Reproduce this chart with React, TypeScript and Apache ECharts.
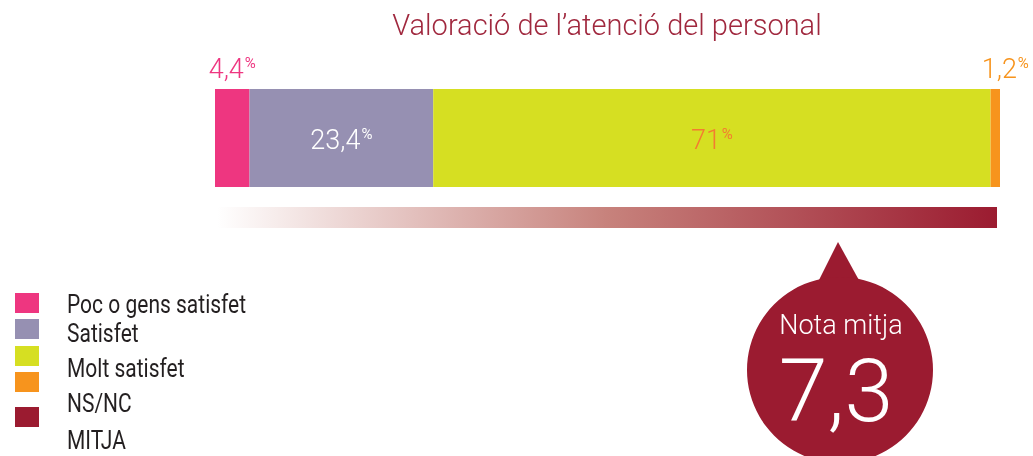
import React, { useEffect, useRef } from "react";
import * as echarts from "echarts";

const categories = ["Atenció del personal"];
const seriesNames = ["Poc o gens satisfet", "Satisfet", "Molt satisfet", "NS/NC"];
const pocValues = [4.4];
const satisfetValues = [23.4];
const moltValues = [71];
const nsncValues = [1.2];
const legendLabels = ["Poc o gens satisfet", "Satisfet", "Molt satisfet", "NS/NC", "MITJA"];
const mitjaLabel = "Nota mitja";
const mitjaValue = 7.3;
const titleText = "Valoració de l’atenció del personal";

const FONT = "Roboto, 'Liberation Sans', sans-serif";
const PINK = "#ee3680";
const PURPLE = "#9690b2";
const GREEN = "#d6df22";
const ORANGE = "#f7941d";
const DARK = "#9b1b30";

const fmt = (v: number) => String(v).replace(".", ",");

function richLabel(color: string, position: any, distance = 5, offset: number[] = [0, 0]) {
  return {
    show: true,
    position,
    distance,
    offset,
    formatter: (p: any) => `{a|${fmt(p.value)}}{p|%}`,
    rich: {
      a: { fontSize: 27, fontWeight: 300, fontFamily: FONT, color, lineHeight: 30, verticalAlign: "bottom" },
      p: { fontSize: 15, fontWeight: 400, fontFamily: FONT, color, lineHeight: 30, verticalAlign: "top", padding: [3, 0, 0, 1] },
    },
  };
}

export default function App() {
  const ref = useRef<HTMLDivElement>(null);
  useEffect(() => {
    const chart = echarts.init(ref.current!, null, { renderer: "svg" });
    const squares = [
      { y: 293, color: PINK },
      { y: 319, color: PURPLE },
      { y: 346, color: GREEN },
      { y: 372, color: ORANGE },
      { y: 407, color: DARK },
    ];
    const textYs = [305, 334, 369, 404, 441];
    const graphic: any[] = [
      {
        type: "text",
        x: 607,
        y: 25,
        style: { text: titleText, fill: "#a0283e", font: `300 29px ${FONT}`, align: "center", verticalAlign: "middle" },
      },
      {
        type: "rect",
        shape: { x: 217, y: 207, width: 780, height: 21 },
        style: {
          fill: new echarts.graphic.LinearGradient(0, 0, 1, 0, [
            { offset: 0, color: "#ffffff" },
            { offset: 0.5, color: "#c7827c" },
            { offset: 1, color: DARK },
          ]),
        },
      },
      {
        type: "polygon",
        shape: { points: [[838, 242], [818, 282], [860, 282]] },
        style: { fill: DARK },
      },
      { type: "circle", shape: { cx: 840, cy: 370, r: 93 }, style: { fill: DARK } },
      {
        type: "text",
        x: 841,
        y: 325,
        style: { text: mitjaLabel, fill: "#fff", font: `300 27px ${FONT}`, align: "center", verticalAlign: "middle" },
      },
      {
        type: "text",
        x: 836,
        y: 390,
        style: { text: fmt(mitjaValue), fill: "#fff", font: `300 88px ${FONT}`, align: "center", verticalAlign: "middle" },
      },
    ];
    squares.forEach((s) =>
      graphic.push({ type: "rect", shape: { x: 15, y: s.y, width: 24, height: 20 }, style: { fill: s.color } })
    );
    legendLabels.forEach((t, i) =>
      graphic.push({
        type: "text",
        x: 67,
        y: textYs[i],
        scaleX: 0.84,
        style: { text: t, fill: "#231f20", font: `400 25px ${FONT}`, align: "left", verticalAlign: "middle" },
      })
    );

    chart.setOption({
      animation: false,
      grid: { left: 215, right: 33, top: 89, height: 98, containLabel: false },
      xAxis: { type: "value", min: 0, max: 100, show: false },
      yAxis: { type: "category", data: categories, show: false },
      series: [
        { name: seriesNames[0], type: "bar", stack: "t", barWidth: 98, data: pocValues, itemStyle: { color: PINK }, label: richLabel(PINK, "top", 7) },
        { name: seriesNames[1], type: "bar", stack: "t", barWidth: 98, data: satisfetValues, itemStyle: { color: PURPLE }, label: richLabel("#ffffff", "inside") },
        { name: seriesNames[2], type: "bar", stack: "t", barWidth: 98, data: moltValues, itemStyle: { color: GREEN }, label: richLabel("#f47b30", "inside") },
        { name: seriesNames[3], type: "bar", stack: "t", barWidth: 98, data: nsncValues, itemStyle: { color: ORANGE }, label: richLabel(ORANGE, "top", 7, [10, 0]) },
      ],
      graphic,
    });
    return () => chart.dispose();
  }, []);
  return <div ref={ref} style={{ position: "fixed", left: 0, top: 0, width: 1033, height: 456 }} />;
}
